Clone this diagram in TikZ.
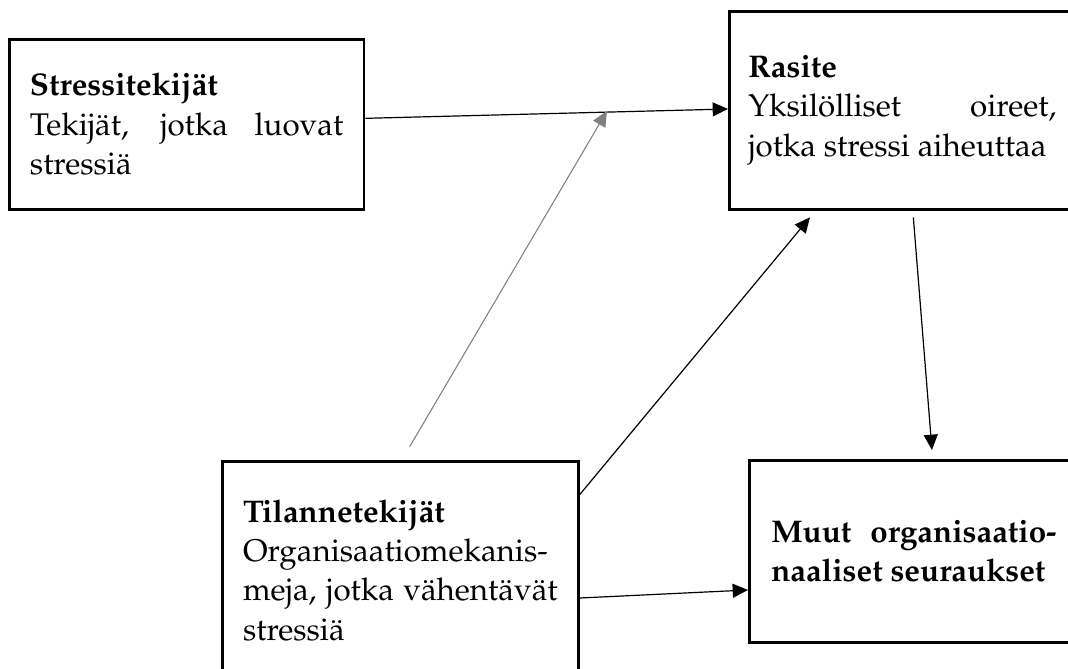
\documentclass[tikz,border=0pt]{standalone}
\usepackage[T1]{fontenc}
\usepackage{tikz}
\usepackage{xcolor}
\renewcommand{\rmdefault}{ppl}
\usetikzlibrary{arrows.meta,positioning}
\hyphenpenalty=10000

\begin{document}
\begin{tikzpicture}[x=0.75pt, y=-0.75pt, >={Triangle[length=11.5pt,width=10.5pt]}]
        \useasboundingbox (0,0) rectangle (1068,668);
        \clip (0,0) rectangle (1068,668);

        % Stressitekijat
        \node [draw, line width=2pt, anchor=north west, minimum width=266pt, minimum height=127.5pt, text width=235pt, align=justify, font=\fontsize{23.5}{29.5}\selectfont] (stress) at (8,38) {\textbf{Stressitekij\"at}\\ Tekij\"at, jotka luovat stressi\"a};

        % Rasite
        \node [draw, line width=2pt, anchor=north west, minimum width=259.5pt, minimum height=148.5pt, text width=231pt, align=justify, font=\fontsize{23.5}{29.5}\selectfont] (rasite) at (728,10) {\textbf{Rasite}\\ Yksil\"olliset oireet, jotka stressi aiheuttaa};

        % Tilannetekijat
        \node [draw, line width=2pt, anchor=north west, minimum width=267pt, minimum height=163.5pt, text width=236pt, align=justify, font=\fontsize{23.5}{29.5}\selectfont] (tilanne) at (221,460) {\textbf{Tilannetekij\"at}\\ Organisaatiomekanis-\linebreak meja, jotka v\"ahent\"av\"at stressi\"a};

        % Muut seuraukset
        \node [draw, line width=2pt, anchor=north west, minimum width=247pt, minimum height=136.5pt, text width=214pt, align=justify, font=\fontsize{23.5}{29.5}\selectfont\bfseries] (muut) at (748,459) {Muut organisaatio-\linebreak naaliset seuraukset};

        % Vaikutukset
        \coordinate (grayfoot) at ([xshift=7pt,yshift=10pt]tilanne.north);
        \coordinate (graytip) at (607,111);
        \draw [->, line width=0.9pt] ([yshift=4.5pt]stress.east) -- ([yshift=1pt]rasite.west);
        \draw [->, line width=0.8pt, gray] (grayfoot) -- (graytip);
        \draw [->, line width=0.9pt] ([yshift=-26pt]tilanne.north east) -- ([xshift=61.5pt,yshift=-5pt]rasite.south west);
        \draw [->, line width=0.9pt] ([xshift=139pt,yshift=-5pt]rasite.south west) -- ([xshift=138pt,yshift=6.75pt]muut.north west);
        \draw [->, line width=0.9pt] ([yshift=-103.5pt]tilanne.north east) -- ([yshift=-98.25pt]muut.north west);
    \end{tikzpicture}
\end{document}
